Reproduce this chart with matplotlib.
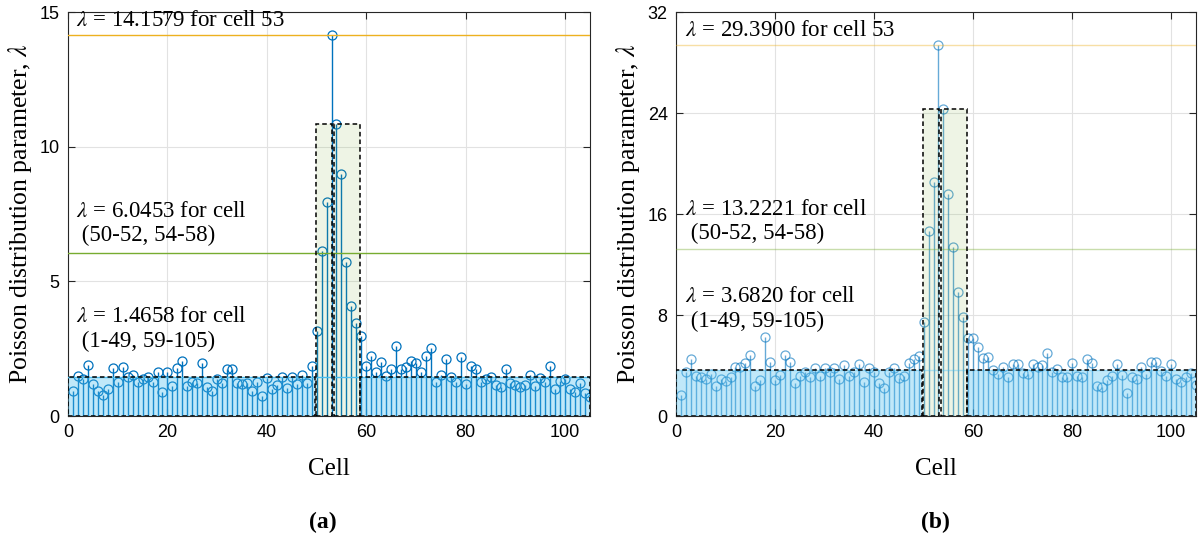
import matplotlib
matplotlib.use('Agg')
import matplotlib.pyplot as plt
from matplotlib.patches import Rectangle
import numpy as np

# ------------------------------------------------------------------ data
CELLS = np.arange(1, 106)

LAM_A = [0.94, 1.49, 1.36, 1.90, 1.18, 0.93, 0.78, 1.00, 1.77, 1.28,
         1.83, 1.44, 1.52, 1.28, 1.36, 1.46, 1.28, 1.65, 0.88, 1.62,
         1.12, 1.77, 2.06, 1.13, 1.28, 1.21, 1.98, 1.09, 0.94, 1.36,
         1.24, 1.74, 1.74, 1.24, 1.18, 1.21, 0.93, 1.25, 0.74, 1.40,
         0.99, 1.15, 1.46, 1.05, 1.46, 1.18, 1.52, 1.21, 1.87, 3.16,
         6.11, 7.94, 14.16, 10.85, 9.00, 5.71, 4.10, 3.47, 2.99, 1.87,
         2.24, 1.62, 2.00, 1.50, 1.75, 2.61, 1.75, 1.81, 2.06, 1.96,
         1.65, 2.24, 2.52, 1.25, 1.52, 2.12, 1.44, 1.28, 2.20, 1.19,
         1.87, 1.75, 1.25, 1.38, 1.46, 1.15, 1.09, 1.74, 1.21, 1.15,
         1.09, 1.15, 1.52, 1.12, 1.40, 1.28, 1.87, 1.00, 1.31, 1.38,
         1.00, 0.88, 1.21, 0.84, 0.72]

LAM_B = [1.66, 3.51, 4.51, 3.19, 3.06, 2.93, 3.33, 2.40, 2.93, 2.80,
         3.06, 3.90, 3.86, 4.17, 4.83, 2.40, 2.85, 6.28, 4.25, 2.85,
         3.25, 4.83, 4.30, 2.59, 3.19, 3.46, 3.06, 3.78, 3.19, 3.78,
         3.46, 3.78, 2.93, 4.04, 3.19, 3.46, 4.12, 2.67, 3.78, 3.46,
         2.59, 2.19, 3.46, 3.78, 2.99, 3.19, 4.22, 4.49, 4.75, 7.42,
         14.65, 18.56, 29.39, 24.30, 17.58, 13.36, 9.80, 7.82, 6.15, 6.15,
         5.44, 4.57, 4.65, 3.64, 3.33, 3.86, 3.06, 4.12, 4.12, 3.38,
         3.33, 4.09, 3.86, 4.04, 4.96, 3.51, 3.72, 3.06, 3.06, 4.22,
         3.19, 3.06, 4.49, 4.22, 2.40, 2.27, 2.85, 3.19, 4.09, 3.25,
         1.80, 3.12, 2.93, 3.91, 3.33, 4.30, 4.30, 3.59, 3.19, 4.09,
         2.93, 2.72, 3.06, 3.38, 2.46]

# fitted lambda levels: (peak cell 53, cells 50-52/54-58, background)
LEVELS_A = [14.1579, 6.0453, 1.4658]
LEVELS_B = [29.3900, 13.2221, 3.6820]
LEVEL_TEXT = ['for cell 53', 'for cell\n (50-52, 54-58)', 'for cell\n (1-49, 59-105)']

# spans of the shaded cell groups (cell coordinates)
BG_SPANS = [(0, 49.7), (58.8, 105)]
MID_SPANS = [(49.8, 53.1), (53.6, 58.7)]

YTICKS_A = [0, 5, 10, 15]
YTICKS_B = [0, 8, 16, 24, 32]
XTICKS = [0, 20, 40, 60, 80, 100]

# ------------------------------------------------------------------ style
BLUE = '#0072BD'
ORANGE = '#EDB120'
GREEN = '#77AC30'
CYAN = '#4DBEEE'
SERIF = 'Liberation Serif'
SANS = 'Liberation Sans'

plt.rcParams.update({
    'font.family': SERIF,
    'mathtext.fontset': 'stix',
    'xtick.direction': 'in',
    'ytick.direction': 'in',
    'xtick.top': True,
    'ytick.right': True,
    'xtick.major.size': 5,
    'ytick.major.size': 5,
    'axes.linewidth': 0.8,
    'axes.edgecolor': '#262626',
})


def panel(ax, lam, levels, yticks, text_pos, stem_alpha, line_alpha):
    ax.set_xlim(0, 105)
    ax.set_ylim(yticks[0], yticks[-1])
    ax.grid(True, color='#E2E2E2', linewidth=0.8)
    ax.set_axisbelow(True)

    ax.vlines(CELLS, 0, lam, color=BLUE, linewidth=1.0, alpha=stem_alpha, zorder=2)
    ax.plot(CELLS, lam, 'o', mfc='none', mec=BLUE, ms=6.5, mew=0.9,
            alpha=stem_alpha, zorder=2)

    # shaded group boxes drawn over the stems
    peak = max(lam[49:52] + lam[53:58])
    for x0, x1 in BG_SPANS:
        ax.add_patch(Rectangle((x0, 0), x1 - x0, levels[2], facecolor=CYAN,
                               alpha=0.35, edgecolor='none', zorder=3))
        ax.add_patch(Rectangle((x0, 0), x1 - x0, levels[2], facecolor='none',
                               edgecolor='black', ls=(0, (3, 2)), lw=1.1, zorder=4))
    for x0, x1 in MID_SPANS:
        ax.add_patch(Rectangle((x0, 0), x1 - x0, peak, facecolor=GREEN,
                               alpha=0.12, edgecolor='none', zorder=3))
        ax.add_patch(Rectangle((x0, 0), x1 - x0, peak, facecolor='none',
                               edgecolor='black', ls=(0, (3, 2)), lw=1.1, zorder=4))

    for lv, c in zip(levels, [ORANGE, GREEN, CYAN]):
        ax.axhline(lv, color=c, lw=1.0, alpha=line_alpha, zorder=3.5)

    for lv, txt, (tx, ty) in zip(levels, LEVEL_TEXT, text_pos):
        ax.text(tx, ty, f'$\\lambda$ = {lv:.4f} {txt}', fontsize=16.5,
                ha='left', va='bottom', linespacing=1.22, zorder=5)

    ax.set_xticks(XTICKS)
    ax.set_yticks(yticks)
    ax.tick_params(labelsize=13, width=0.8, color='#262626', pad=6)
    for lbl in ax.get_xticklabels() + ax.get_yticklabels():
        lbl.set_family(SANS)
    ax.set_xlabel('Cell', fontsize=18, labelpad=12)
    ax.set_ylabel('Poisson distribution parameter, $\\lambda$', fontsize=18.5, labelpad=4)


fig = plt.figure(figsize=(11.98, 5.46), dpi=100)
ax_a = fig.add_axes([0.0568, 0.238, 0.4357, 0.740])
ax_b = fig.add_axes([0.5643, 0.238, 0.4340, 0.740])

panel(ax_a, LAM_A, LEVELS_A, YTICKS_A,
      [(1.6, 14.3), (1.6, 6.3), (1.6, 2.38)], 1.0, 1.0)
panel(ax_b, LAM_B, LEVELS_B, YTICKS_B,
      [(1.8, 29.7), (1.8, 13.6), (1.8, 6.65)], 0.6, 0.4)

fig.text(0.2695, 0.044, '(a)', ha='center', va='center', fontsize=17, fontweight='bold')
fig.text(0.7805, 0.044, '(b)', ha='center', va='center', fontsize=17, fontweight='bold')

fig.savefig('out.png', dpi=100)
